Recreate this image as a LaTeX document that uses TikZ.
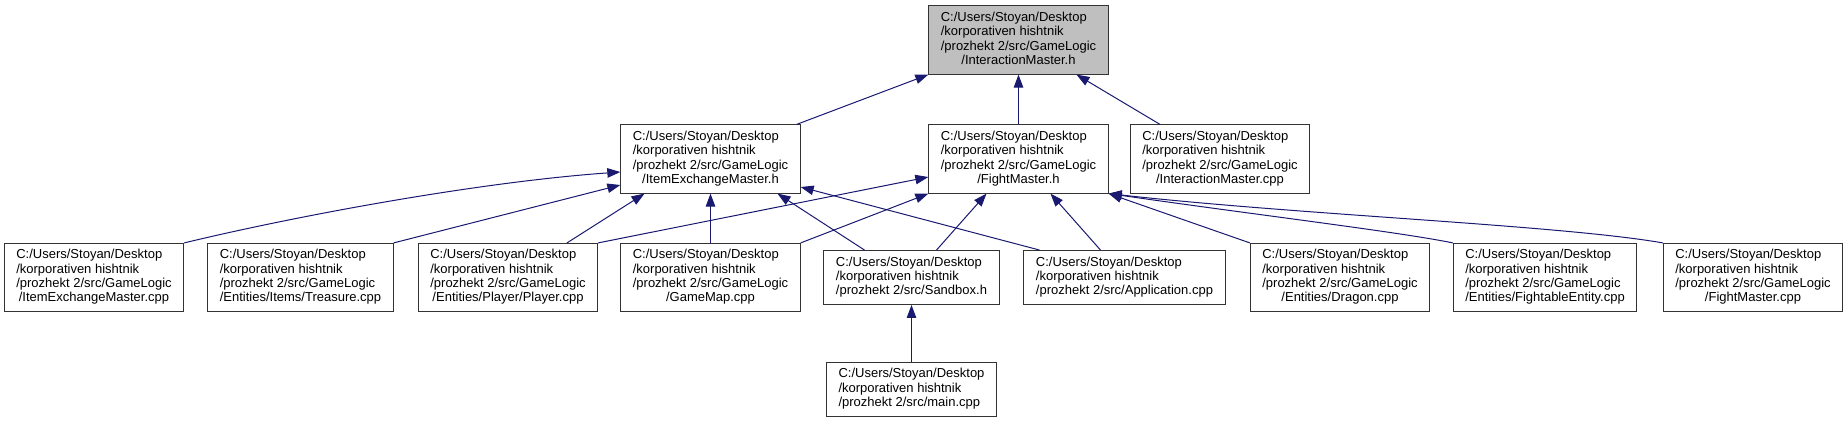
\documentclass[tikz,border=0pt]{standalone}
\usepackage{fontspec}
\setmainfont{Liberation Sans}
\usepackage{xcolor}
\usepackage{tikz}
\usetikzlibrary{arrows.meta,positioning}

\definecolor{incblue}{RGB}{25,25,112}
\definecolor{curgray}{RGB}{191,191,191}

\newcommand{\glfile}[1]{\begin{tabular}{@{}l@{}}C:/Users/Stoyan/Desktop\\/korporativen hishtnik\\/prozhekt 2/src/GameLogic\\\multicolumn{1}{@{}c@{}}{#1}\end{tabular}}
\newcommand{\srcfile}[1]{\begin{tabular}{@{}l@{}}C:/Users/Stoyan/Desktop\\/korporativen hishtnik\\/prozhekt 2/src/#1\end{tabular}}

\begin{document}
\begin{tikzpicture}[
x=1pt, y=-1pt,
filebox/.style={draw=black!80, line width=1pt, fill=white, inner xsep=12pt, inner ysep=5.5pt, font=\fontsize{13}{14.3}\selectfont},
curfile/.style={filebox, fill=curgray},
incl/.style={draw=incblue, line width=1pt, -{Triangle[length=13pt,width=9.5pt]}}
]
\useasboundingbox (0,0) rectangle (1848,423);
% the header itself
\node[curfile] (imh) at (1018.5,40) {\glfile{/InteractionMaster.h}};
% files that include it
\node[filebox] (iemh) at (710.5,159) {\glfile{/ItemExchangeMaster.h}};
\node[filebox] (fmh) at (1018.5,159) {\glfile{/FightMaster.h}};
\node[filebox] (imcpp) at (1220,159) {\glfile{/InteractionMaster.cpp}};
% next level
\node[filebox] (iemcpp) at (94,277.5) {\glfile{/ItemExchangeMaster.cpp}};
\node[filebox] (treasure) at (300.5,277.5) {\glfile{/Entities/Items/Treasure.cpp}};
\node[filebox] (player) at (508,277.5) {\glfile{/Entities/Player/Player.cpp}};
\node[filebox] (gamemap) at (710.5,277.5) {\glfile{/GameMap.cpp}};
\node[filebox] (sandbox) at (911.5,277.5) {\srcfile{Sandbox.h}};
\node[filebox] (app) at (1124.5,277.5) {\srcfile{Application.cpp}};
\node[filebox] (dragon) at (1340,277.5) {\glfile{/Entities/Dragon.cpp}};
\node[filebox] (fentity) at (1545,277.5) {\glfile{/Entities/FightableEntity.cpp}};
\node[filebox] (fmcpp) at (1753,277.5) {\glfile{/FightMaster.cpp}};
\node[filebox, below=57pt of sandbox] (maincpp) {\srcfile{main.cpp}};

\draw[incl] ([xshift=-4pt]iemh.north east) -- (imh.south west);
\draw[incl] (fmh.north) -- (imh.south);
\draw[incl] ([xshift=-60pt]imcpp.north) -- ([xshift=58pt]imh.south);

\draw[incl] (iemcpp.north east) .. controls (300,215) and (480,182) .. ([yshift=-13pt]iemh.west);
\draw[incl] (treasure.north east) -- ([yshift=-26pt]iemh.west);
\draw[incl] ([xshift=59pt]player.north) -- ([xshift=-66pt]iemh.south);
\draw[incl] (gamemap.north) -- (iemh.south);
\draw[incl] ([xshift=-47pt]sandbox.north) -- ([xshift=67pt]iemh.south);
\draw[incl] ([xshift=-85pt]app.north) -- ([yshift=-28pt]iemh.east);

\draw[incl] (player.north east) -- ([yshift=-18pt]fmh.west);
\draw[incl] (gamemap.north east) -- (fmh.south west);
\draw[incl] ([xshift=25pt]sandbox.north) -- ([xshift=-32pt]fmh.south);
\draw[incl] ([xshift=-24pt]app.north) -- ([xshift=32pt]fmh.south);
\draw[incl] (dragon.north west) -- (fmh.south east);
\draw[incl] (fentity.north west) .. controls (1400,232) and (1250,214) .. (fmh.south east);
\draw[incl] (fmcpp.north west) .. controls (1560,225) and (1300,215) .. (fmh.south east);

\draw[incl] (maincpp.north) -- (sandbox.south);
\end{tikzpicture}
\end{document}
